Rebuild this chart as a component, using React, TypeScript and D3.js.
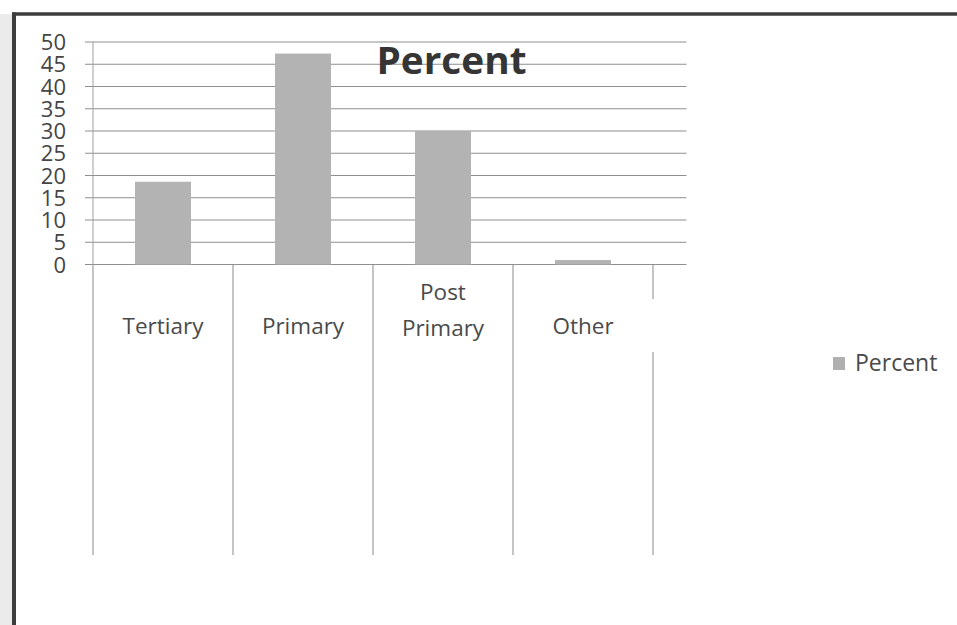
import React from "react";
import * as d3 from "d3";

// Education level shares (percent)
const categories: string[] = ["Tertiary", "Primary", "Post Primary", "Other"];
const percentValues: number[] = [18.6, 47.4, 30.0, 1.0];
const yTicks: number[] = [0, 5, 10, 15, 20, 25, 30, 35, 40, 45, 50];
const chartTitle = "Percent";
const legendLabel = "Percent";

const W = 957;
const H = 625;
const FONT = "'Open Sans', 'DejaVu Sans', sans-serif";

export default function App() {
  const plotLeft = 93;
  const plotRight = 653;
  const gridRight = 686.5;
  const y = d3.scaleLinear().domain([0, 50]).range([264.5, 42]);
  const x = d3
    .scaleBand<string>()
    .domain(categories)
    .range([plotLeft, plotRight])
    .paddingInner(0.6)
    .paddingOuter(0.3);
  const step = x.step();
  const catLineBottom = 555;

  const labelLines = (c: string): string[] => (c === "Post Primary" ? ["Post", "Primary"] : [c]);

  return (
    <div style={{ position: "absolute", left: 0, top: 0, width: W, height: H, background: "#fff" }}>
      <svg width={W} height={H} viewBox={`0 0 ${W} ${H}`} style={{ display: "block" }}>
        <rect x={0} y={0} width={W} height={H} fill="#ffffff" />
        {/* page edge and frame */}
        <rect x={0} y={14} width={12} height={H - 14} fill="#ebebeb" />
        <line x1={12} x2={W} y1={14} y2={14} stroke="#3d3d3d" strokeWidth={3.5} />
        <line x1={14} x2={14} y1={12.5} y2={H} stroke="#3d3d3d" strokeWidth={4} />

        {/* horizontal gridlines with outward ticks */}
        {yTicks.map((t) => (
          <line
            key={`g${t}`}
            x1={85}
            x2={gridRight}
            y1={y(t)}
            y2={y(t)}
            stroke="#8f8f8f"
            strokeWidth={1}
          />
        ))}
        {/* value axis line */}
        <line x1={plotLeft} x2={plotLeft} y1={y(50)} y2={y(0)} stroke="#a0a0a0" strokeWidth={1} />

        {/* y tick labels */}
        {yTicks.map((t) => (
          <text
            key={`l${t}`}
            x={66}
            y={y(t) - 1}
            textAnchor="end"
            dominantBaseline="central"
            fontFamily={FONT}
            fontSize={22}
            fill="#454545"
          >
            {t}
          </text>
        ))}

        {/* category separator lines below the axis */}
        {d3.range(categories.length + 1).map((i) => {
          const lx = plotLeft + i * step;
          if (i === categories.length) {
            return (
              <g key={`c${i}`}>
                <line x1={lx} x2={lx} y1={y(0)} y2={299} stroke="#8a8a8a" strokeWidth={1} />
                <line x1={lx} x2={lx} y1={352} y2={catLineBottom} stroke="#8a8a8a" strokeWidth={1} />
              </g>
            );
          }
          return (
            <line key={`c${i}`} x1={lx} x2={lx} y1={y(0)} y2={catLineBottom} stroke="#8a8a8a" strokeWidth={1} />
          );
        })}

        {/* bars */}
        {categories.map((c, i) => (
          <rect
            key={`b${c}`}
            x={x(c)}
            y={y(percentValues[i])}
            width={x.bandwidth()}
            height={y(0) - y(percentValues[i])}
            fill="#b3b3b3"
          />
        ))}

        {/* category labels */}
        {categories.map((c) => {
          const cx = (x(c) as number) + x.bandwidth() / 2;
          const lines = labelLines(c);
          return (
            <text
              key={`t${c}`}
              textAnchor="middle"
              fontFamily={FONT}
              fontSize={22.5}
              fill="#4a4a4a"
            >
              {lines.length === 1 ? (
                <tspan x={cx} y={334}>
                  {lines[0]}
                </tspan>
              ) : (
                lines.map((ln, k) => (
                  <tspan key={ln} x={cx} y={299.5 + k * 36.5}>
                    {ln}
                  </tspan>
                ))
              )}
            </text>
          );
        })}

        {/* title */}
        <text
          x={451.5}
          y={74}
          textAnchor="middle"
          fontFamily={FONT}
          fontWeight={700}
          fontSize={37}
          fill="#353535"
          textLength={150}
          lengthAdjust="spacingAndGlyphs"
        >
          {chartTitle}
        </text>

        {/* legend */}
        <rect x={833} y={357} width={12} height={13} fill="#b0b0b0" />
        <text x={855} y={370.5} fontFamily={FONT} fontSize={23} fill="#4a4a4a">
          {legendLabel}
        </text>
      </svg>
    </div>
  );
}
